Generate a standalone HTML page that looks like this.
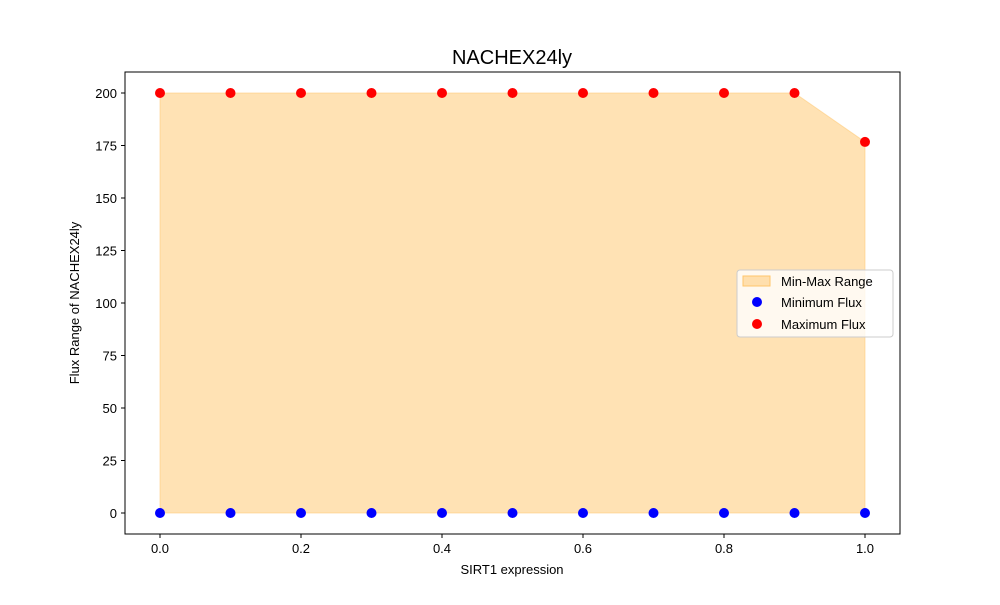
<!DOCTYPE html>
<html><head><meta charset="utf-8"><style>
body{margin:0;background:#fff;font-family:"Liberation Sans","DejaVu Sans",sans-serif}
</style></head><body>
<svg width="1000" height="600" xmlns="http://www.w3.org/2000/svg">
<rect width="1000" height="600" fill="#fff"/>
<text x="512" y="64" font-size="20" text-anchor="middle">NACHEX24ly</text>
<g id="plot"></g>
<rect x="125" y="72" width="775" height="462" fill="none" stroke="#000" stroke-width="1"/>
<text x="512" y="574" font-size="13" text-anchor="middle">SIRT1 expression</text>
<text transform="translate(79,303) rotate(-90)" font-size="13" text-anchor="middle">Flux Range of NACHEX24ly</text>
<g>
<rect x="737" y="270" width="156" height="67" rx="3" fill="#fff" fill-opacity="0.8" stroke="#ccc"/>
<rect x="743" y="276" width="27" height="10" fill="#ffc56a" fill-opacity="0.5" stroke="#ffc56a"/>
<text x="781" y="286" font-size="13">Min-Max Range</text>
<circle cx="757" cy="302" r="5" fill="blue"/>
<text x="781" y="307" font-size="13">Minimum Flux</text>
<circle cx="757" cy="324" r="5" fill="red"/>
<text x="781" y="329" font-size="13">Maximum Flux</text>
</g>
</svg>
<script>
const xVals=[0,0.1,0.2,0.3,0.4,0.5,0.6,0.7,0.8,0.9,1.0];
const minFlux=[0,0,0,0,0,0,0,0,0,0,0];
const maxFlux=[200,200,200,200,200,200,200,200,200,200,176.7];
const xTicks=[0,0.2,0.4,0.6,0.8,1.0];
const yTicks=[0,25,50,75,100,125,150,175,200];
const NS="http://www.w3.org/2000/svg";
const sx=v=>160+v*705, sy=v=>513-v*2.1;
const g=document.getElementById('plot');
function mk(t,a){const e=document.createElementNS(NS,t);for(const k in a)e.setAttribute(k,a[k]);g.appendChild(e);return e;}
let d='M'+xVals.map((x,i)=>sx(x)+','+sy(maxFlux[i])).join('L');
for(let i=xVals.length-1;i>=0;i--)d+='L'+sx(xVals[i])+','+sy(minFlux[i]);
const area=mk('path',{d:d+'Z',fill:'#ffc56a','fill-opacity':0.5,stroke:'#ffc56a','stroke-opacity':0.5});


xTicks.forEach(t=>{const x=sx(t);
const l=mk('line',{x1:x,x2:x,y1:534,y2:538,stroke:'#000'});


const tx=mk('text',{x:x,y:553,'font-size':13,'text-anchor':'middle'});tx.textContent=t.toFixed(1);

});
yTicks.forEach(t=>{const y=sy(t);
const l=mk('line',{x1:121,x2:125,y1:y,y2:y,stroke:'#000'});


const tx=mk('text',{x:117,y:y+5,'font-size':13,'text-anchor':'end'});tx.textContent=t;

});
xVals.forEach((x,i)=>{
const a=mk('circle',{cx:sx(x),cy:sy(minFlux[i]),r:5,fill:'blue'});


const b=mk('circle',{cx:sx(x),cy:sy(maxFlux[i]),r:5,fill:'red'});

});
</script>
</body></html>
